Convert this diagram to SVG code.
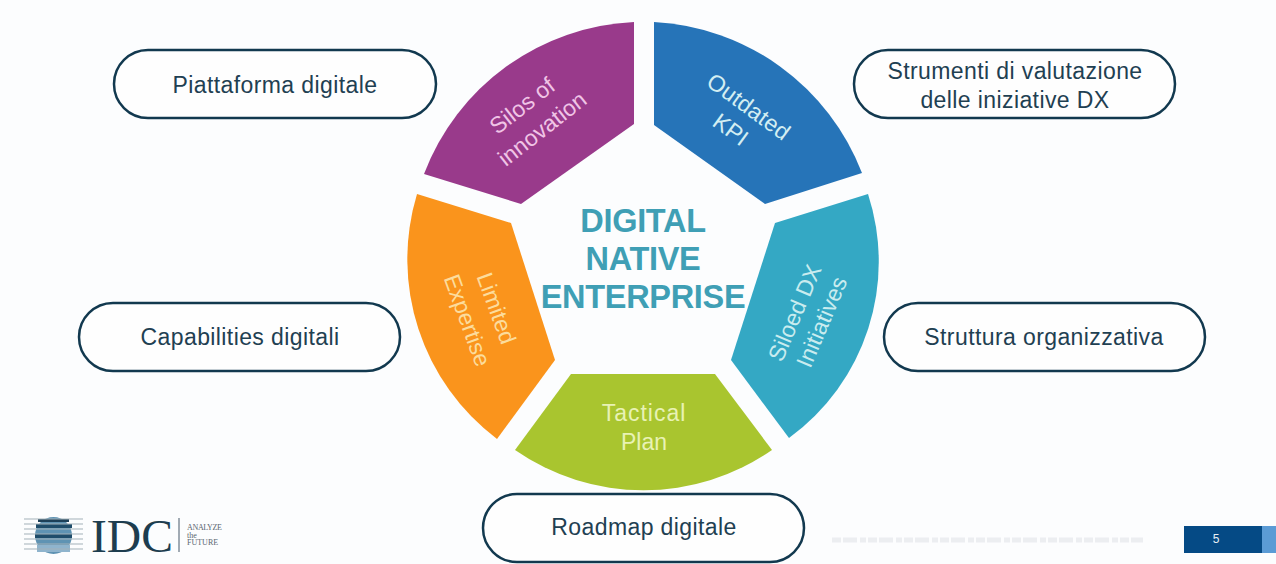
<svg xmlns="http://www.w3.org/2000/svg" width="1276" height="564" viewBox="0 0 1276 564">
<style>
.pill{fill:#fefefe;stroke:#12394f;stroke-width:2.500}
.pt{font:23px "Liberation Sans",Arial,sans-serif;fill:#1f4052;text-anchor:middle;letter-spacing:.4px}
.st{font:23px "Liberation Sans",Arial,sans-serif;text-anchor:middle}
.ct{font:bold 32.500px "Liberation Sans",Arial,sans-serif;fill:#3f9fb5;text-anchor:middle;letter-spacing:-.3px}
</style>
<rect width="1276" height="564" fill="#fcfdfe"/>
<g id="seg-silos">
<path d="M634 22V124L521 204 424 174A236 236 0 0 1 634 22Z" fill="#993a8b"/>
<text class="st" fill="#f0c4e6" transform="translate(527 112) rotate(-38)">Silos of</text>
<text class="st" fill="#f0c4e6" transform="translate(547 135) rotate(-38)">innovation</text>
</g>
<g id="seg-kpi">
<path d="M654 22V125L765 204 862 173A236 236 0 0 0 654 22Z" fill="#2674b8"/>
<text class="st" fill="#d3eef2" transform="translate(744 113) rotate(36)" letter-spacing=".2">Outdated</text>
<text class="st" fill="#d3eef2" transform="translate(726 136) rotate(36)">KPI</text>
</g>
<g id="seg-siloed">
<path d="M868 194 775 223 731 360 789 438A218 218 0 0 0 868 194Z" fill="#34a8c4"/>
<text class="st" fill="#c9ecef" transform="translate(802 316) rotate(-67)">Siloed DX</text>
<text class="st" fill="#c9ecef" transform="translate(829 325) rotate(-67)">Initiatives</text>
</g>
<g id="seg-plan">
<path d="M571 374H715L772 450A225 225 0 0 1 515 450Z" fill="#a9c52f"/>
<text class="st" fill="#e8f2b4" x="644" y="421" letter-spacing="1">Tactical</text>
<text class="st" fill="#e8f2b4" x="644" y="450">Plan</text>
</g>
<g id="seg-expertise">
<path d="M417 194 511 223 555 360 497 439A225 225 0 0 1 417 194Z" fill="#fa941c"/>
<text class="st" fill="#fcdc9c" transform="translate(489 311) rotate(70)">Limited</text>
<text class="st" fill="#fcdc9c" transform="translate(460 323) rotate(70)">Expertise</text>
</g>
<g id="center">
<text class="ct" x="643" y="232">DIGITAL</text>
<text class="ct" x="643" y="270">NATIVE</text>
<text class="ct" x="643" y="308">ENTERPRISE</text>
</g>
<g id="pill-piattaforma"><rect class="pill" x="114" y="50" width="322" height="68" rx="34"/><text class="pt" x="275" y="93">Piattaforma digitale</text></g>
<g id="pill-strumenti"><rect class="pill" x="854" y="50" width="321" height="68" rx="34"/><text class="pt" x="1015" y="79">Strumenti di valutazione</text><text class="pt" x="1015" y="108">delle iniziative DX</text></g>
<g id="pill-capabilities"><rect class="pill" x="79" y="303" width="321" height="68" rx="34"/><text class="pt" x="240" y="345">Capabilities digitali</text></g>
<g id="pill-struttura"><rect class="pill" x="884" y="303" width="321" height="68" rx="34"/><text class="pt" x="1044" y="345">Struttura organizzativa</text></g>
<g id="pill-roadmap"><rect class="pill" x="483" y="494" width="321" height="68" rx="34"/><text class="pt" x="644" y="535">Roadmap digitale</text></g>
<g id="logo">
<circle cx="53.500" cy="535.500" r="18.500" fill="#5f93b3"/>
<path d="M36 524h36v4H36zM35 534h37v4H35z" fill="#1f4d6b"/>
<path d="M38 519h31v3H38z" fill="#1d4058"/>
<path d="M37 545h33v7H37z" fill="#8fb4cd"/>
<path d="M24 519H83M24 524H83M24 529H83M24 534H83M24 539H83M24 544H83M24 549H83" stroke="#a3b1b9" stroke-width="1" fill="none"/>
<text x="91" y="552" font-family="Liberation Serif,serif" font-size="47" fill="#1d3d4f" textLength="82" lengthAdjust="spacingAndGlyphs">IDC</text>
<path d="M179 518V552" stroke="#46586a" stroke-width="1"/>
<g font-family="Liberation Serif,serif" font-size="8" fill="#5a6670"><text x="187" y="530" textLength="35">ANALYZE</text><text x="187" y="538">the</text><text x="187" y="545">FUTURE</text></g>
</g>
<path id="footer-note" d="M832 540H1143" stroke="#eceef1" stroke-width="5" stroke-dasharray="9 2 14 3 6 2" fill="none"/>
<g id="page">
<rect x="1184" y="526" width="78" height="27" fill="#054a85"/>
<rect x="1262" y="526" width="14" height="27" fill="#5b9bd5"/>
<text x="1216" y="543" font-family="Liberation Sans,sans-serif" font-size="12" fill="#e8f0f6" text-anchor="middle">5</text>
</g>
</svg>
